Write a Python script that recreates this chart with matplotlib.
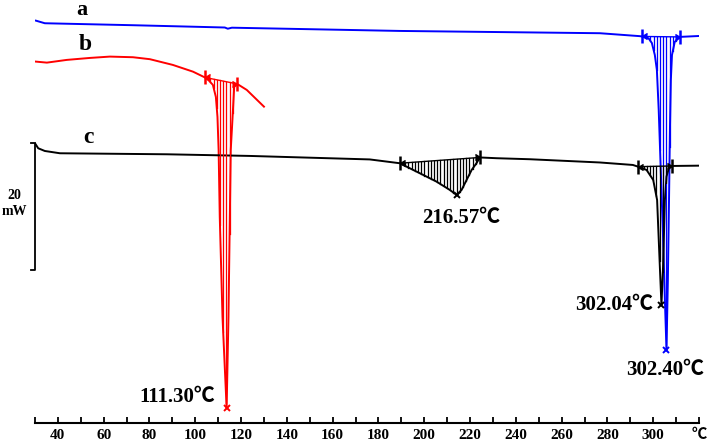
import matplotlib
matplotlib.use("Agg")
import matplotlib.pyplot as plt
import numpy as np

plt.rcParams['font.family'] = ['Liberation Serif', 'Noto Sans CJK SC', 'DejaVu Sans']
plt.rcParams['font.weight'] = 'bold'

# curve a (blue): temperature (C), heat flow (mW, arbitrary offset)
a_T = [30.4, 34.3, 72.8, 112.9, 114.2, 116.0, 189.3, 276.7, 294.1, 296.3, 298.0, 299.4,
       300.7, 301.6, 302.4, 303.3, 304.2, 305.1, 305.8, 306.4, 306.9, 307.3, 307.7,
       308.2, 309.4, 311.6, 320.3]
a_Q = [63.35, 62.94, 62.63, 62.27, 62.08, 62.24, 61.73, 61.37, 60.91, 60.79, 60.55, 59.84,
       57.95, 55.59, 49.29, 39.84, 30.39, 19.37, 11.50, 22.52, 35.12, 46.14, 54.02,
       57.95, 60.0, 60.79, 60.94]

# curve b (red)
b_T = [30.4, 35.2, 43.9, 54.0, 62.7, 72.8, 80.2, 90.2, 99.0, 104.2, 105.9, 107.7, 109.0,
       109.7, 110.2, 110.7, 111.9, 113.7, 114.5, 115.1, 115.5, 116.3, 117.0, 118.3,
       122.5, 130.0]
b_Q = [56.9, 56.74, 57.17, 57.48, 57.69, 57.59, 57.28, 56.38, 55.32, 54.41, 53.94, 53.23,
       51.34, 48.19, 42.99, 32.44, 16.69, 2.36, 16.69, 32.44, 42.99, 48.19, 52.91, 53.39,
       52.44, 49.81]

# curve c (black)
c_T = [30.0, 31.4, 34.3, 40.9, 87.6, 123.8, 176.2, 189.3, 198.1, 205.4, 211.2, 214.1,
       216.3, 218.5, 220.7, 222.8, 224.3, 231.7, 246.1, 276.7, 291.1, 293.4, 297.1,
       300.0, 301.7, 302.9, 303.6, 304.3, 305.1, 305.8, 306.8, 308.0, 320.3]
c_Q = [44.05, 43.26, 42.83, 42.47, 42.31, 42.05, 41.50, 40.90, 39.32, 38.0, 36.69, 35.91,
       36.69, 38.27, 39.84, 40.90, 41.81, 41.69, 41.53, 41.02, 40.63, 40.36, 39.84,
       38.27, 35.12, 24.61, 18.58, 24.61, 35.12, 38.79, 40.11, 40.47, 40.52]

# integrated peaks: (curve, start, end, peak T, label)
peaks = [
    ('a', 295.0, 311.6, 305.8, '302.40℃'),
    ('b', 104.2, 118.3, 113.7, '111.30℃'),
    ('c', 189.3, 224.3, 214.1, '216.57℃'),
    ('c', 293.4, 308.0, 303.6, '302.04℃'),
]

curves = {'a': (a_T, a_Q, '#0000ff'), 'b': (b_T, b_Q, '#ff0000'), 'c': (c_T, c_Q, 'black')}

fig = plt.figure(figsize=(7.08, 4.43), dpi=100)
ax = fig.add_axes([0.0494, 0.0451, 0.9379, 0.9549])

for name, (T, Q, col) in curves.items():
    ax.plot(T, Q, color=col, lw=1.4)

label_pos = {
    '302.40℃': (305.1, 8.35, 'center'),
    '111.30℃': (108.6, 4.1, 'right'),
    '216.57℃': (216.0, 32.3, 'center'),
    '302.04℃': (299.8, 18.6, 'right'),
}

for name, t0, t1, tp, lab in peaks:
    T, Q, col = curves[name]
    q0 = np.interp(t0, T, Q)
    q1 = np.interp(t1, T, Q)
    ax.plot([t0, t1], [q0, q1], color=col, lw=1.0)
    for t in np.arange(t0 + 1.0, t1, 1.4):
        qb = q0 + (q1 - q0) * (t - t0) / (t1 - t0)
        ax.plot([t, t], [qb, np.interp(t, T, Q)], color=col, lw=0.9)
    ax.plot([t0, t1], [q0, q1], ls='none', marker='|', ms=10, mew=1.8, color=col)
    ax.plot([t0], [q0], ls='none', marker=4, ms=5, color=col)
    ax.plot([t1], [q1], ls='none', marker=5, ms=5, color=col)
    ax.plot([tp], [np.interp(tp, T, Q)], ls='none', marker='x', ms=5, mew=1.4, color=col)
    x, y, ha = label_pos[lab]
    ax.text(x, y, lab, ha=ha, va='center', fontsize=15, fontweight='bold')

ax.text(50.5, 64.2, 'a', ha='center', va='baseline', fontsize=16, fontweight='bold')
ax.text(51.8, 58.7, 'b', ha='center', va='baseline', fontsize=17, fontweight='bold')
ax.text(53.3, 44.1, 'c', ha='center', va='baseline', fontsize=17, fontweight='bold')

# 20 mW scale bar
ax.plot([28.3, 30, 30, 28.3], [44.1, 44.1, 24.1, 24.1], color='black', lw=1.3, clip_on=False)
ax.text(20.8, 35.8, '20', ha='center', va='center', fontsize=10, fontweight='bold')
ax.text(20.8, 33.3, 'mW', ha='center', va='center', fontsize=10, fontweight='bold')

ax.set_xlim(30, 320)
ax.set_ylim(0, 66.6)
for s in ['top', 'right', 'left']:
    ax.spines[s].set_visible(False)
ax.spines['bottom'].set_linewidth(1.5)
ax.set_yticks([])
ticks = list(range(40, 321, 20))
ax.set_xticks(ticks)
ax.set_xticklabels([str(t) for t in ticks[:-1]] + ['℃'])
ax.set_xticks(list(range(30, 321, 10)), minor=True)
ax.tick_params(axis='x', which='both', direction='in', length=4, width=1.3, pad=4,
               labelsize=11)
for lbl in ax.get_xticklabels():
    lbl.set_fontweight('bold')

fig.savefig('out.png', dpi=100)
